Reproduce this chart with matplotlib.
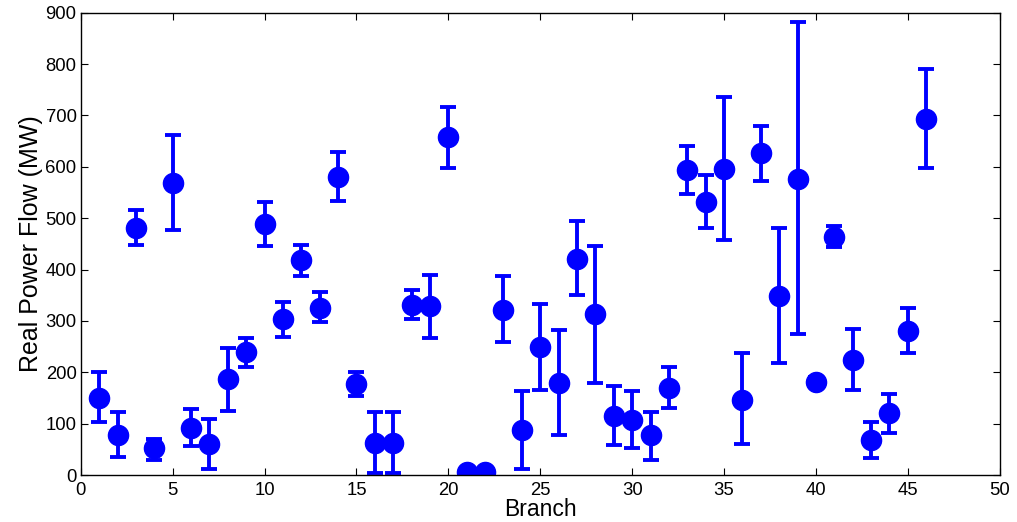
import matplotlib
matplotlib.use("Agg")
import matplotlib.pyplot as plt
import numpy as np

plt.rcParams['font.family'] = ['Liberation Sans', 'DejaVu Sans']

branches = list(range(1, 47))
flow = [150, 78, 481, 52, 568, 92, 60, 186, 239, 489,
        304, 418, 326, 581, 177, 62, 62, 331, 329, 658,
        5, 5, 322, 88, 249, 180, 421, 314, 115, 108,
        77, 170, 593, 531, 596, 147, 626, 349, 577, 182,
        463, 224, 69, 120, 281, 694]
upper = [200, 123, 515, 71, 662, 129, 110, 247, 267, 531,
         336, 448, 356, 629, 200, 122, 122, 360, 389, 716,
         5, 5, 387, 164, 332, 283, 494, 446, 174, 164,
         122, 210, 641, 584, 735, 237, 680, 480, 881, 190,
         484, 285, 104, 158, 326, 790]
lower = [103, 36, 448, 30, 476, 57, 12, 125, 210, 446,
         268, 388, 297, 533, 154, 3, 3, 303, 267, 598,
         5, 5, 259, 12, 165, 77, 351, 180, 58, 52,
         30, 130, 548, 480, 457, 60, 572, 219, 274, 174,
         443, 165, 33, 82, 237, 597]

x_ticks = list(range(0, 51, 5))
y_ticks = list(range(0, 901, 100))

flow_a = np.array(flow)
err = np.vstack([flow_a - np.array(lower), np.array(upper) - flow_a])

fig = plt.figure(figsize=(10.17, 5.22), dpi=100)
ax = fig.add_axes([0.0794, 0.090, 0.9036, 0.8857])

ax.errorbar(branches, flow, yerr=err, fmt='o', color='#0000ff',
            ecolor='#0000ff', markersize=14.5, elinewidth=2.8,
            capsize=6.0, capthick=2.8, markeredgecolor='#0000ff')

ax.set_xlim(0, 50)
ax.set_ylim(0, 900)
ax.set_xticks(x_ticks)
ax.set_yticks(y_ticks)
ax.tick_params(direction='in', top=True, right=True, labelsize=13.3,
               length=5, width=0.8)
ax.tick_params(axis='x', pad=5)
ax.tick_params(axis='y', pad=3)
for s in ax.spines.values():
    s.set_linewidth(1.0)
ax.set_xlabel('Branch', fontsize=16.5, labelpad=-1)
ax.set_ylabel('Real Power Flow (MW)', fontsize=18, labelpad=2)

fig.savefig('out.png', dpi=100)
